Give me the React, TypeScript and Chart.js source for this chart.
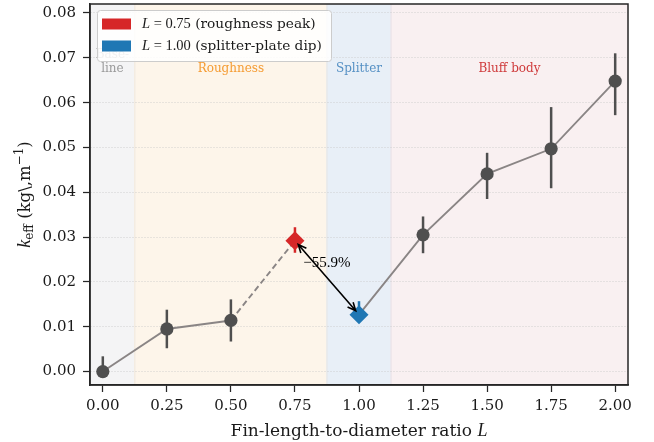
import React, { useEffect, useRef } from 'react';
import { Chart, registerables } from 'chart.js';
Chart.register(...registerables);

// ---- data ----
const finRatio = [0, 0.25, 0.5, 0.75, 1.0, 1.25, 1.5, 1.75, 2.0];
const kEff = [0.0, 0.0095, 0.0114, 0.0292, 0.0127, 0.0305, 0.0441, 0.0497, 0.0648];
const kErrLow = [0.0, 0.0043, 0.0047, 0.0027, 0.0012, 0.0041, 0.0056, 0.0088, 0.0076];
const kErrHigh = [0.0034, 0.0043, 0.0047, 0.003, 0.003, 0.0041, 0.0047, 0.0093, 0.0062];
const xTickValues = [0, 0.25, 0.5, 0.75, 1.0, 1.25, 1.5, 1.75, 2.0];
const yTickValues = [0, 0.01, 0.02, 0.03, 0.04, 0.05, 0.06, 0.07, 0.08];
const regionNames = [['Base-', 'line'], ['Roughness'], ['Splitter'], ['Bluff body']];
const regionStart = [-0.05, 0.125, 0.875, 1.125];
const regionEnd = [0.125, 0.875, 1.125, 2.05];
const roughIdx = [0, 1, 2];
const dashIdx = [2, 3];
const bluffIdx = [4, 5, 6, 7, 8];
const circleIdx = [0, 1, 2, 5, 6, 7, 8];
const peakIdx = 3;
const dipIdx = 4;
const dropLabel = '\u221255.9%';
const legendLabels = [['L', ' = 0.75', ' (roughness peak)'], ['L', ' = 1.00', ' (splitter-plate dip)']];

// ---- styles ----
const regionFill = ['#f4f4f5', '#fdf5ea', '#e8eff7', '#f9f0f1'];
const regionEdge = ['#ececee', '#f8ecdc', '#dde7f2', '#f3e5e6'];
const regionText = ['#9a9a9a', '#f59b32', '#5590c4', '#cf3a3b'];
const RED = '#d62728';
const BLUE = '#1f77b4';
const DARK = '#4f4f4f';
const LINE = '#8a8585';
const SERIF = '"DejaVu Serif"';
const MATH = '"Liberation Serif"';

const pts = (idx: number[]) => idx.map((i) => ({ x: finRatio[i], y: kEff[i] }));

const customPlugin = {
  id: 'custom',
  beforeDraw(chart: any) {
    const { ctx, chartArea: a, scales } = chart;
    const xs = scales.x;
    ctx.save();
    regionStart.forEach((s, i) => {
      const x1 = Math.max(a.left, xs.getPixelForValue(s));
      const x2 = Math.min(a.right, xs.getPixelForValue(regionEnd[i]));
      ctx.fillStyle = regionFill[i];
      ctx.fillRect(x1, a.top, x2 - x1, a.bottom - a.top);
    });
    ctx.lineWidth = 1;
    regionStart.forEach((s, i) => {
      [s, regionEnd[i]].forEach((v) => {
        const px = xs.getPixelForValue(v);
        if (px <= a.left + 1 || px >= a.right - 1) return;
        ctx.strokeStyle = regionEdge[i];
        ctx.beginPath();
        ctx.moveTo(px, a.top);
        ctx.lineTo(px, a.bottom);
        ctx.stroke();
      });
    });
    ctx.restore();
  },
  beforeDatasetsDraw(chart: any) {
    const { ctx, chartArea: a, scales } = chart;
    const xs = scales.x, ys = scales.y;
    ctx.save();
    // region labels
    ctx.textAlign = 'center';
    ctx.textBaseline = 'middle';
    ctx.font = `12px ${SERIF}`;
    regionStart.forEach((s, i) => {
      const cx = (Math.max(a.left, xs.getPixelForValue(s)) + Math.min(a.right, xs.getPixelForValue(regionEnd[i]))) / 2;
      ctx.fillStyle = regionText[i];
      const lines = regionNames[i];
      lines.forEach((t, j) => {
        ctx.fillText(t, cx, 69 - (lines.length - 1 - j) * 14);
      });
    });
    // error bars
    ctx.beginPath();
    ctx.rect(a.left, a.top, a.right - a.left, a.bottom - a.top);
    ctx.clip();
    ctx.lineWidth = 2.5;
    finRatio.forEach((xv, i) => {
      const px = xs.getPixelForValue(xv);
      ctx.strokeStyle = i === peakIdx ? RED : i === dipIdx ? BLUE : DARK;
      ctx.beginPath();
      ctx.moveTo(px, ys.getPixelForValue(kEff[i] - kErrLow[i]));
      ctx.lineTo(px, ys.getPixelForValue(kEff[i] + kErrHigh[i]));
      ctx.stroke();
    });
    ctx.restore();
  },
  afterDatasetsDraw(chart: any) {
    const { ctx, scales } = chart;
    const xs = scales.x, ys = scales.y;
    const x1 = xs.getPixelForValue(finRatio[peakIdx]);
    const y1 = ys.getPixelForValue(kEff[peakIdx]);
    const x2 = xs.getPixelForValue(finRatio[dipIdx]);
    const y2 = ys.getPixelForValue(kEff[dipIdx]);
    const dx = x2 - x1, dy = y2 - y1;
    const len = Math.hypot(dx, dy);
    const ux = dx / len, uy = dy / len;
    const sh = 5;
    const ax = x1 + ux * sh, ay = y1 + uy * sh;
    const bx = x2 - ux * sh, by = y2 - uy * sh;
    ctx.save();
    ctx.strokeStyle = '#000';
    ctx.lineWidth = 1.6;
    ctx.beginPath();
    ctx.moveTo(ax, ay);
    ctx.lineTo(bx, by);
    const head = (tx: number, ty: number, dirx: number, diry: number) => {
      const hl = 9, ang = 0.42;
      const c = Math.cos(ang), s = Math.sin(ang);
      const bx1 = -dirx, by1 = -diry;
      ctx.moveTo(tx + hl * (bx1 * c - by1 * s), ty + hl * (bx1 * s + by1 * c));
      ctx.lineTo(tx, ty);
      ctx.lineTo(tx + hl * (bx1 * c + by1 * s), ty + hl * (-bx1 * s + by1 * c));
    };
    head(bx, by, ux, uy);
    head(ax, ay, -ux, -uy);
    ctx.stroke();
    ctx.fillStyle = '#000';
    ctx.font = `15px ${MATH}`;
    ctx.textAlign = 'center';
    ctx.textBaseline = 'middle';
    ctx.fillText(dropLabel, (x1 + x2) / 2, (y1 + y2) / 2 - 15);
    ctx.restore();
  },
  afterDraw(chart: any) {
    const { ctx, chartArea: a } = chart;
    ctx.save();
    // frame
    ctx.strokeStyle = '#262626';
    ctx.lineWidth = 1.5;
    ctx.strokeRect(a.left, a.top, a.right - a.left, a.bottom - a.top);
    // legend
    const lx = 97, ly = 10, lw = 234, lh = 51;
    ctx.fillStyle = 'rgba(255,255,255,0.85)';
    ctx.strokeStyle = '#cccccc';
    ctx.lineWidth = 1;
    ctx.beginPath();
    (ctx as any).roundRect(lx + 0.5, ly + 0.5, lw, lh, 3);
    ctx.fill();
    ctx.stroke();
    const colors = [RED, BLUE];
    legendLabels.forEach((parts, i) => {
      const cy = 24 + i * 22;
      ctx.fillStyle = colors[i];
      ctx.fillRect(102, cy - 5.5, 29, 11);
      let tx = 142;
      ctx.textBaseline = 'middle';
      ctx.textAlign = 'left';
      ctx.fillStyle = '#1a1a1a';
      ctx.font = `italic 14.5px ${MATH}`;
      ctx.fillText(parts[0], tx, cy);
      tx += ctx.measureText(parts[0]).width;
      ctx.font = `14.5px ${MATH}`;
      ctx.fillText(parts[1], tx, cy);
      tx += ctx.measureText(parts[1]).width;
      ctx.font = `13.7px ${SERIF}`;
      ctx.fillText(parts[2], tx, cy);
    });
    // x title
    ctx.fillStyle = '#1a1a1a';
    ctx.textBaseline = 'alphabetic';
    const xt1 = 'Fin-length-to-diameter ratio ';
    const f1 = `17px ${SERIF}`;
    const f2 = `italic 18px ${MATH}`;
    ctx.font = f1;
    const w1 = ctx.measureText(xt1).width;
    ctx.font = f2;
    const w2 = ctx.measureText('L').width;
    const sx = (a.left + a.right) / 2 - (w1 + w2) / 2;
    ctx.textAlign = 'left';
    ctx.font = f1;
    ctx.fillText(xt1, sx, 436);
    ctx.font = f2;
    ctx.fillText('L', sx + w1, 436);
    // y title
    const segs = [
      { t: 'k', f: `italic 18px ${MATH}`, dy: 0 },
      { t: 'eff', f: `12px ${SERIF}`, dy: 3 },
      { t: ' (kg\\,m', f: `16.5px ${SERIF}`, dy: 0 },
      { t: '\u22121', f: `12px ${SERIF}`, dy: -7 },
      { t: ')', f: `16.5px ${SERIF}`, dy: 0 },
    ];
    let total = 0;
    segs.forEach((s) => { ctx.font = s.f; total += ctx.measureText(s.t).width; });
    ctx.translate(30, (a.top + a.bottom) / 2);
    ctx.rotate(-Math.PI / 2);
    let px = -total / 2;
    segs.forEach((s) => {
      ctx.font = s.f;
      ctx.fillText(s.t, px, s.dy);
      px += ctx.measureText(s.t).width;
    });
    ctx.restore();
  },
};

export default function App() {
  const ref = useRef<HTMLCanvasElement>(null);
  useEffect(() => {
    const chart = new Chart(ref.current!, {
      type: 'scatter',
      data: {
        datasets: [
          { data: [pts([peakIdx])[0]], pointStyle: 'rectRot', pointRadius: 9.5, backgroundColor: RED, borderColor: RED, borderWidth: 0, showLine: false },
          { data: [pts([dipIdx])[0]], pointStyle: 'rectRot', pointRadius: 9.5, backgroundColor: BLUE, borderColor: BLUE, borderWidth: 0, showLine: false },
          { data: pts(circleIdx), pointStyle: 'circle', pointRadius: 6.6, backgroundColor: DARK, borderColor: DARK, borderWidth: 0, showLine: false },
          { data: pts(roughIdx), showLine: true, pointRadius: 0, borderColor: LINE, borderWidth: 1.9 },
          { data: pts(dashIdx), showLine: true, pointRadius: 0, borderColor: LINE, borderWidth: 1.9, borderDash: [6, 3.5] },
          { data: pts(bluffIdx), showLine: true, pointRadius: 0, borderColor: LINE, borderWidth: 1.9 },
        ] as any,
      },
      options: {
        animation: false,
        responsive: true,
        maintainAspectRatio: false,
        layout: { autoPadding: false, padding: { left: 0, top: 4, right: 26, bottom: 0 } },
        plugins: { legend: { display: false }, tooltip: { enabled: false } },
        scales: {
          x: {
            type: 'linear',
            min: -0.05,
            max: 2.05,
            afterBuildTicks: (s: any) => { s.ticks = xTickValues.map((v) => ({ value: v })); },
            afterFit: (s: any) => { s.height = 57; s.paddingLeft = 0; s.paddingRight = 0; s.paddingTop = 0; s.paddingBottom = 0; },
            ticks: {
              autoSkip: false,
              maxRotation: 0,
              padding: 5,
              color: '#1a1a1a',
              font: { family: 'DejaVu Serif', size: 15 },
              callback: (v: any) => Number(v).toFixed(2),
            },
            grid: { drawOnChartArea: false, tickLength: 7, tickColor: '#262626', tickWidth: 1.25 },
            border: { color: '#262626', width: 1.5 },
          },
          y: {
            type: 'linear',
            min: -0.003,
            max: 0.082,
            afterBuildTicks: (s: any) => { s.ticks = yTickValues.map((v) => ({ value: v })); },
            afterFit: (s: any) => { s.width = 90; s.paddingLeft = 0; s.paddingRight = 0; s.paddingTop = 0; s.paddingBottom = 0; },
            ticks: {
              padding: 7,
              color: '#1a1a1a',
              font: { family: 'DejaVu Serif', size: 15 },
              callback: (v: any) => Number(v).toFixed(2),
            },
            grid: { color: '#c8c8c8', lineWidth: 0.8, tickLength: 7, tickColor: '#262626', tickWidth: 1.25 },
            border: { color: '#262626', width: 1.5, dash: [1, 2] },
          },
        },
      },
      plugins: [customPlugin],
    } as any);
    return () => chart.destroy();
  }, []);
  return (
    <div style={{ position: 'fixed', left: 0, top: 0, width: 654, height: 442 }}>
      <canvas ref={ref} />
    </div>
  );
}
